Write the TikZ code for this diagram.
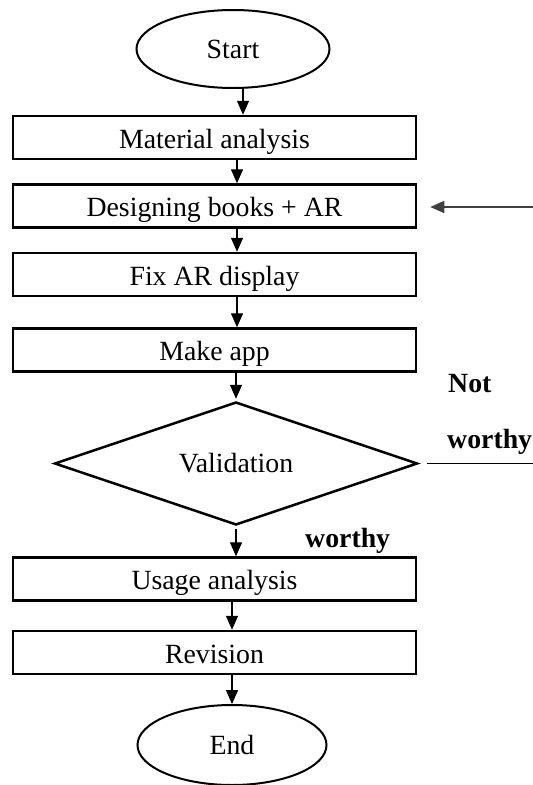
\documentclass[tikz,border=0pt]{standalone}
\usepackage{fontspec}
\setmainfont{Liberation Serif}
\usetikzlibrary{shapes.geometric,arrows.meta}

\newcommand{\chartfont}{\fontsize{27.8}{33}\selectfont}

\tikzset{
  stepbox/.style={draw, rectangle, line width=2.5pt, minimum width=403pt,
    minimum height=43pt, inner sep=0pt, text height=21pt, text depth=0pt},
  termbox/.style={draw, ellipse, line width=2pt, inner sep=0pt},
  decisionbox/.style={draw, diamond, aspect=3, line width=2.5pt, inner sep=0pt,
    minimum width=363pt, minimum height=123pt},
  flow/.style={line width=1.4pt, -{Triangle[length=14pt,width=12pt]}},
  branchlabel/.style={font=\chartfont\bfseries, anchor=base west, inner sep=0pt},
}

\begin{document}
\begin{tikzpicture}[x=1pt, y=-1pt, font=\chartfont]
\useasboundingbox (0,0) rectangle (533,785);

% axes of the vertical connectors
\coordinate (axs) at (243,0);
\coordinate (ax) at (237,0);
\coordinate (axe) at (232,0);

% terminals, process steps and the decision
\node[termbox, minimum width=193pt, minimum height=78pt] (start) at (233,49) {Start};
\node[stepbox] (mat) at (214.5,137.5) {Material analysis};
\node[stepbox] (des) at (214.5,206) {Designing books + AR};
\node[stepbox] (fix) at (214.5,274.5) {Fix AR display};
\node[stepbox] (make) at (214.5,350) {Make app};
\node[decisionbox] (val) at (236,463.5) {\raisebox{-4pt}{Validation}};
\node[stepbox] (usage) at (214.5,579) {Usage analysis};
\node[stepbox] (rev) at (214.5,652.5) {Revision};
\node[termbox, minimum width=189pt, minimum height=80pt] (fin) at (232,745) {End};

% branch labels
\node[branchlabel] (lnot) at (448,392) {Not};
\node[branchlabel] (lnotw) at (447,448) {worthy};
\node[branchlabel] (lok) at (305,547) {worthy};

% main flow
\draw[flow] (start.south -| axs) -- (mat.north -| axs);
\draw[flow] (mat.south -| ax) -- (des.north -| ax);
\draw[flow] (des.south -| ax) -- (fix.north -| ax);
\draw[flow] (fix.south -| ax) -- (make.north -| ax);
\draw[flow, shorten >=2pt] (make.south -| val.north) -- (val.north);
\draw[flow, shorten <=3pt] (val.south) -- (usage.north -| val.south);
\draw[flow] (usage.south -| axe) -- (rev.north -| axe);
\draw[flow] (rev.south -| axe) -- (fin.north -| axe);

% loop back from "not worthy"
\coordinate (nwend) at (533,466);
\draw[line width=1.3pt, shorten <=8pt] (val.east) -- (val.east -| nwend);
\coordinate (fbstart) at (533,207);
\draw[flow, line width=1.6pt, black!75, shorten >=13pt] (fbstart) -- (des.east |- fbstart);
\end{tikzpicture}
\end{document}
